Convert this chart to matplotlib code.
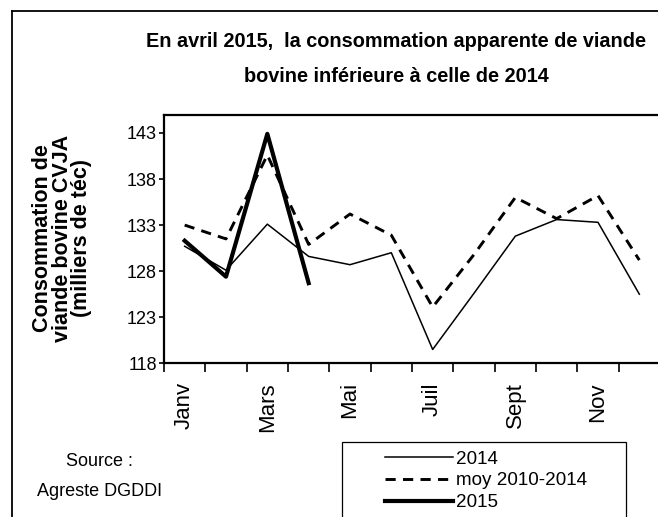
import matplotlib
matplotlib.use('Agg')
import matplotlib.pyplot as plt
import numpy as np
from matplotlib.lines import Line2D
from matplotlib.patches import Rectangle

plt.rcParams['font.family'] = ['Liberation Sans', 'DejaVu Sans']

W, H = 658, 517
months = ['Janv', 'Fev', 'Mars', 'Avr', 'Mai', 'Juin', 'Juil', 'Aout', 'Sept', 'Oct', 'Nov', 'Dec']
v2014 = [130.7, 128.1, 133.1, 129.6, 128.7, 130.0, 119.5, 125.6, 131.8, 133.6, 133.3, 125.5]
moy = [133.0, 131.5, 140.6, 130.9, 134.2, 131.9, 124.1, 129.8, 136.0, 133.7, 136.2, 129.2]
v2015 = [131.3, 127.4, 142.9, 126.7]
yticks = [118, 123, 128, 133, 138, 143]

def fx(px): return px / W
def fy(py): return 1 - py / H

fig = plt.figure(figsize=(W/100, H/100), dpi=100)

# outer frame (only left and top edges fall inside the picture)
fig.add_artist(Line2D([fx(11.5), fx(11.5)], [fy(11), 0], color='k', lw=1.3))
fig.add_artist(Line2D([fx(11.5), 1], [fy(11), fy(11)], color='k', lw=1.3))

ax = fig.add_axes([fx(164), fy(363.3), fx(660) - fx(164), fy(114.5) - fy(363.3)])
x = np.arange(12) + 0.5
ax.plot(x, v2014, 'k-', lw=1.1, label='2014')
ax.plot(x, moy, 'k--', lw=2.1, dashes=(3.5, 2.5), label='moy 2010-2014')
ax.plot(x[:len(v2015)], v2015, 'k-', lw=3, label='2015')

ax.set_xlim(0, 12)
ax.set_ylim(118, 145)
ax.set_yticks(yticks)
ax.set_xticks(np.arange(13))
ax.set_xticklabels([])
ax.set_xticks(x[::2], minor=True)
ax.set_xticklabels(months[::2], minor=True, rotation=90, fontsize=16)
ax.tick_params(axis='x', which='major', direction='out', length=6.5, width=1.2)
ax.tick_params(axis='x', which='minor', length=0, pad=13.5)
ax.tick_params(axis='y', direction='out', length=3.6, width=1.2, pad=1.5, labelsize=13)
for sp in ax.spines.values():
    sp.set_linewidth(1.6)
ax.spines['right'].set_visible(False)

fig.text(fx(396), fy(46.7), 'En avril 2015,  la consommation apparente de viande',
         ha='center', va='baseline', fontsize=14.3, fontweight='bold')
fig.text(fx(396), fy(82.5), 'bovine inférieure à celle de 2014',
         ha='center', va='baseline', fontsize=14.3, fontweight='bold')

fig.text(fx(62), fy(238), 'Consommation de\nviande bovine CVJA\n(milliers de téc)',
         rotation=90, ha='center', va='center', multialignment='center',
         fontsize=15.5, fontweight='bold', linespacing=0.92)

fig.text(fx(99), fy(462), 'Source :', ha='center', va='center', fontsize=13)
fig.text(fx(100), fy(492), 'Agreste DGDDI', ha='center', va='center', fontsize=13)

fig.add_artist(Rectangle((fx(342), fy(518)), fx(626) - fx(342), fy(441.7) - fy(518),
                         transform=fig.transFigure, fill=False, ec='k', lw=0.9))
leg = fig.legend(loc='upper left', bbox_to_anchor=(fx(385), fy(450.5)), frameon=False,
                 fontsize=13.6, handlelength=3.6, handletextpad=0.15, labelspacing=0.24,
                 borderpad=0, borderaxespad=0)

fig.savefig('out.png', dpi=100)
